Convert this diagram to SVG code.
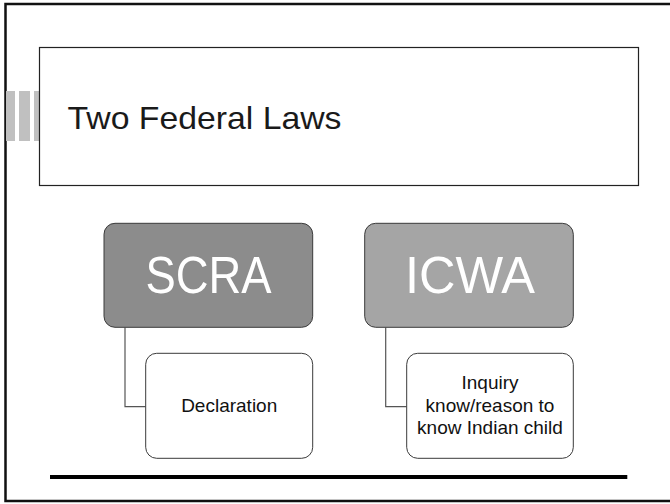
<svg xmlns="http://www.w3.org/2000/svg" width="670" height="504" viewBox="0 0 670 504">
  <style>
    .frame { fill: none; stroke: #111; stroke-width: 2.5; }
    .bar { fill: #c0c0c0; }
    .title { fill: #fff; stroke: #222; stroke-width: 1.2; }
    .head { stroke: #3a3a3a; stroke-width: 1; }
    .child { fill: #fff; stroke: #3a3a3a; stroke-width: 1; }
    .conn { fill: none; stroke: #555; stroke-width: 1.2; }
    .big { font-family: "Liberation Sans", Arial, sans-serif; font-size: 51px; fill: #fff; text-anchor: middle; }
    .small { font-family: "Liberation Sans", Arial, sans-serif; font-size: 19px; fill: #111; text-anchor: middle; }
  </style>
  <rect width="670" height="504" fill="#fff"/>
  <g id="frame">
    <path class="frame" d="M 675 4 L 5.5 4 L 5.5 501 L 675 501"/>
  </g>
  <g id="bars">
    <rect class="bar" x="6" y="91" width="9" height="50"/>
    <rect class="bar" x="19" y="91" width="11" height="50"/>
    <rect class="bar" x="34" y="91" width="6" height="50"/>
  </g>
  <g id="title-box">
    <rect class="title" x="39.5" y="47.5" width="599" height="138"/>
    <text x="67.5" y="128.5" font-family="'Liberation Sans', Arial, sans-serif" font-size="32" fill="#1a1a1a" textLength="274" lengthAdjust="spacingAndGlyphs">Two Federal Laws</text>
  </g>
  <g id="connectors">
    <path class="conn" d="M 125 327.5 L 125 406.7 L 145.7 406.7"/>
    <path class="conn" d="M 385.7 327.5 L 385.7 406.7 L 406.7 406.7"/>
  </g>
  <g id="scra">
    <rect class="head" x="104" y="223.3" width="208.7" height="104" rx="11" fill="#8c8c8c"/>
    <text class="big" x="208.4" y="292.7" textLength="126" lengthAdjust="spacingAndGlyphs">SCRA</text>
  </g>
  <g id="icwa">
    <rect class="head" x="364.7" y="223.3" width="208.6" height="104" rx="11" fill="#a5a5a5"/>
    <text class="big" x="470" y="292.7" textLength="130" lengthAdjust="spacingAndGlyphs">ICWA</text>
  </g>
  <g id="declaration">
    <rect class="child" x="145.7" y="353.3" width="167" height="105" rx="11"/>
    <text class="small" x="229.2" y="411.7">Declaration</text>
  </g>
  <g id="inquiry">
    <rect class="child" x="406.7" y="353.3" width="166.6" height="105" rx="11"/>
    <text class="small" x="490" y="389">Inquiry</text>
    <text class="small" x="490" y="411.5">know/reason to</text>
    <text class="small" x="490" y="434">know Indian child</text>
  </g>
  <g id="rule">
    <line x1="50" y1="477" x2="627.3" y2="477" stroke="#000" stroke-width="4"/>
  </g>
</svg>
